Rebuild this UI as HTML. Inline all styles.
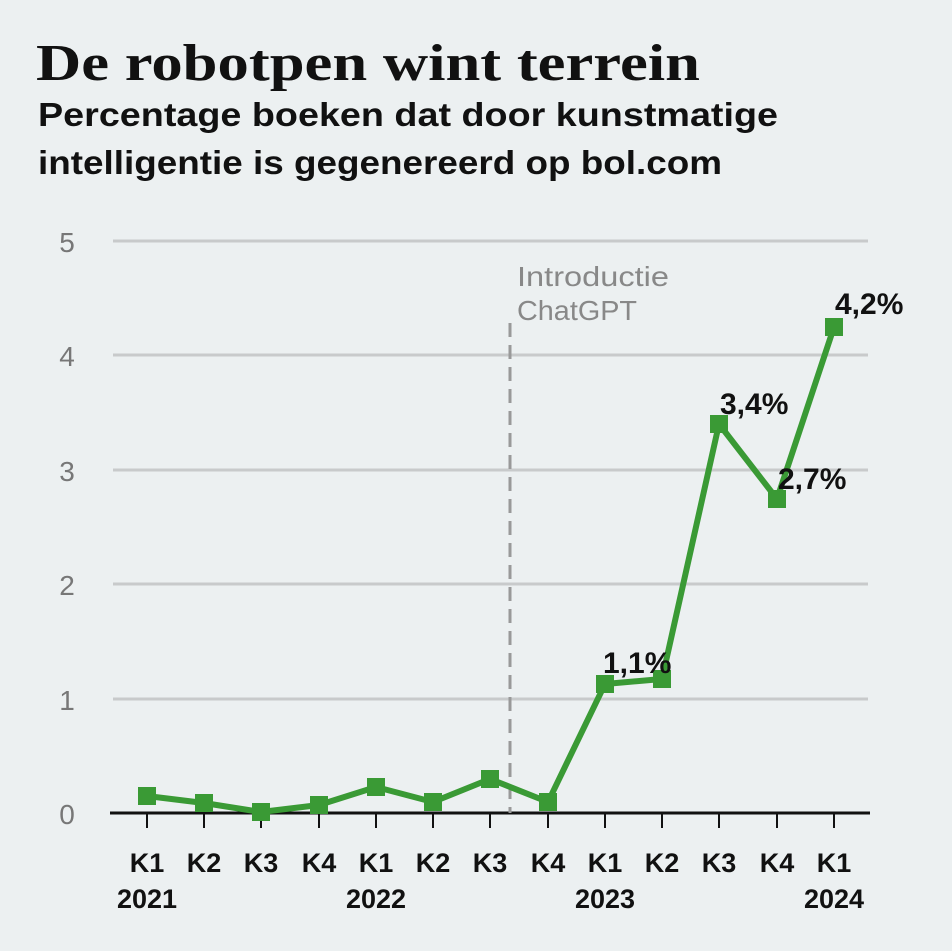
<!DOCTYPE html>
<html><head><meta charset="utf-8"><style>
body{margin:0;background:#ecf0f1;}
svg{display:block}
</style></head><body>
<svg width="952" height="951" viewBox="0 0 952 951" xmlns="http://www.w3.org/2000/svg" font-family="Liberation Sans, sans-serif">
<rect width="952" height="951" fill="#ecf0f1"/>
<text x="36" y="80" style="font-family:'Liberation Serif',serif" font-weight="bold" font-size="52" fill="#111" textLength="664" lengthAdjust="spacingAndGlyphs">De robotpen wint terrein</text>
<text x="38" y="126" font-weight="bold" font-size="33" fill="#111" textLength="740" lengthAdjust="spacingAndGlyphs">Percentage boeken dat door kunstmatige</text>
<text x="38" y="174" font-weight="bold" font-size="33" fill="#111" textLength="684" lengthAdjust="spacingAndGlyphs">intelligentie is gegenereerd op bol.com</text>
<g stroke="#c8cacb" stroke-width="3">
<line x1="113" y1="241" x2="868" y2="241"/><line x1="113" y1="355" x2="868" y2="355"/>
<line x1="113" y1="470" x2="868" y2="470"/><line x1="113" y1="584" x2="868" y2="584"/>
<line x1="113" y1="699" x2="868" y2="699"/>
</g>
<line x1="110" y1="813" x2="870" y2="813" stroke="#111" stroke-width="3"/>
<g font-size="28" fill="#777" text-anchor="middle">
<text x="67" y="252">5</text><text x="67" y="366">4</text><text x="67" y="481">3</text>
<text x="67" y="595">2</text><text x="67" y="710">1</text><text x="67" y="824">0</text>
</g>
<line x1="510" y1="323" x2="510" y2="813" stroke="#999" stroke-width="3" stroke-dasharray="14,8"/>
<text x="517" y="286" font-size="28" fill="#888" textLength="152" lengthAdjust="spacingAndGlyphs">Introductie</text>
<text x="517" y="320" font-size="28" fill="#888" textLength="120" lengthAdjust="spacingAndGlyphs">ChatGPT</text>
<g stroke="#111" stroke-width="2">
<line x1="147" y1="813" x2="147" y2="828"/><line x1="204" y1="813" x2="204" y2="828"/><line x1="261" y1="813" x2="261" y2="828"/><line x1="319" y1="813" x2="319" y2="828"/><line x1="376" y1="813" x2="376" y2="828"/><line x1="433" y1="813" x2="433" y2="828"/><line x1="490" y1="813" x2="490" y2="828"/><line x1="548" y1="813" x2="548" y2="828"/><line x1="605" y1="813" x2="605" y2="828"/><line x1="662" y1="813" x2="662" y2="828"/><line x1="719" y1="813" x2="719" y2="828"/><line x1="777" y1="813" x2="777" y2="828"/><line x1="834" y1="813" x2="834" y2="828"/>
</g>
<g font-size="27" font-weight="bold" fill="#111" text-anchor="middle">
<text x="147" y="872">K1</text><text x="204" y="872">K2</text><text x="261" y="872">K3</text><text x="319" y="872">K4</text><text x="376" y="872">K1</text><text x="433" y="872">K2</text><text x="490" y="872">K3</text><text x="548" y="872">K4</text><text x="605" y="872">K1</text><text x="662" y="872">K2</text><text x="719" y="872">K3</text><text x="777" y="872">K4</text><text x="834" y="872">K1</text>
<text x="147" y="908">2021</text><text x="376" y="908">2022</text><text x="605" y="908">2023</text><text x="834" y="908">2024</text>
</g>
<polyline fill="none" stroke="#3a9a35" stroke-width="6" stroke-linejoin="round" points="147,796 204,803 261,812 319,805 376,787 433,802 490,779 548,802 605,684 662,679 719,424 777,499 834,327"/>
<g fill="#3a9a35">
<rect x="138" y="787" width="18" height="18"/><rect x="195" y="794" width="18" height="18"/><rect x="252" y="803" width="18" height="18"/><rect x="310" y="796" width="18" height="18"/><rect x="367" y="778" width="18" height="18"/><rect x="424" y="793" width="18" height="18"/><rect x="481" y="770" width="18" height="18"/><rect x="539" y="793" width="18" height="18"/><rect x="596" y="675" width="18" height="18"/><rect x="653" y="670" width="18" height="18"/><rect x="710" y="415" width="18" height="18"/><rect x="768" y="490" width="18" height="18"/><rect x="825" y="318" width="18" height="18"/>
</g>
<g font-size="30" font-weight="bold" fill="#111">
<text x="603" y="673">1,1%</text><text x="720" y="414">3,4%</text><text x="778" y="489">2,7%</text><text x="835" y="314">4,2%</text>
</g>
</svg>
</body></html>
